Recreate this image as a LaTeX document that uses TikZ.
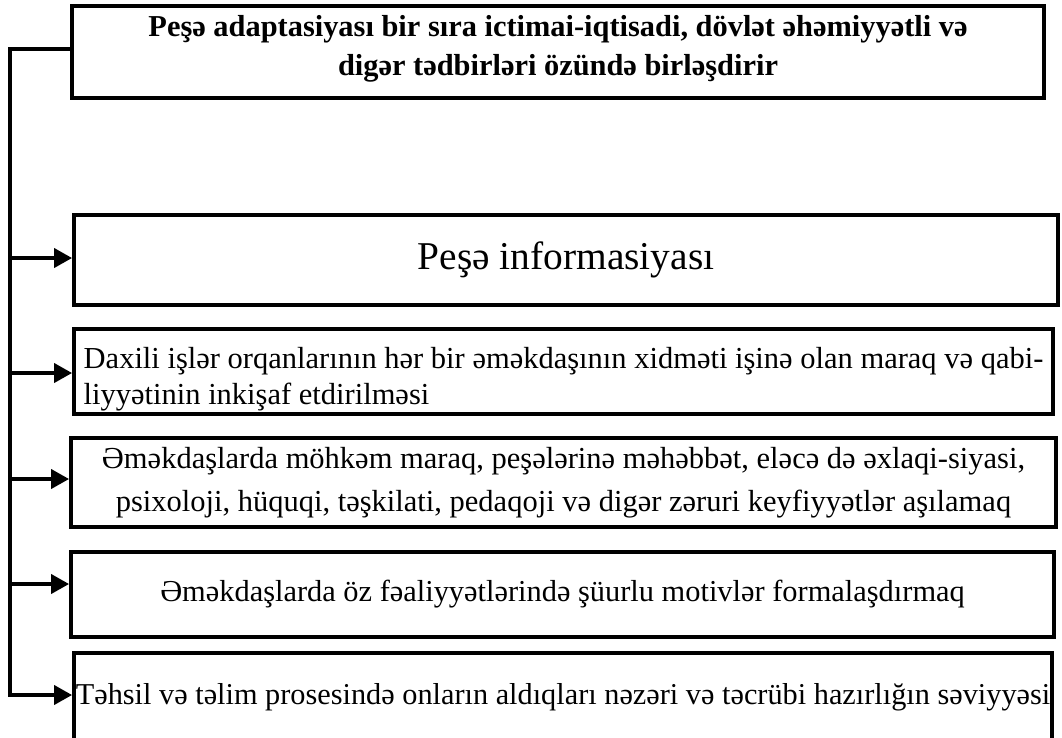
\documentclass[tikz,border=0pt]{standalone}
\usepackage{fontspec}
\setmainfont{Liberation Serif}
\usetikzlibrary{arrows.meta}
\begin{document}
\begin{tikzpicture}[x=1pt,y=-1pt,
  box/.style={draw, line width=3.8pt, rectangle, inner sep=0pt, align=center},
  link/.style={line width=3.8pt, line join=miter},
  arr/.style={link, -{Triangle[length=18pt,width=19pt]}}]
\useasboundingbox (0,0) rectangle (1062,737);
\node[box, minimum width=972pt, minimum height=92pt,
      font=\bfseries\fontsize{30.4}{39}\selectfont] (top) at (558,52)
  {Peşə adaptasiyası bir sıra ictimai-iqtisadi, dövlət əhəmiyyətli və\\ digər tədbirləri özündə birləşdirir\rule[-13pt]{0pt}{0pt}};
\node[box, minimum width=984pt, minimum height=90pt,
      font=\fontsize{39.4}{44}\selectfont] (b2) at (566,260) {Peşə informasiyası};
\node[box, minimum width=979pt, minimum height=85pt, align=left,
      font=\fontsize{30.5}{36}\selectfont] (b3) at (563.5,371.5)
  {\rule{0pt}{37pt}Daxili işlər orqanlarının hər bir əməkdaşının xidməti işinə olan maraq və qabi-\\liyyətinin inkişaf etdirilməsi};
\node[box, font=\fontsize{30.5}{43}\selectfont, minimum width=985pt, minimum height=89pt] (b4) at (563.5,482.5)
  {Əməkdaşlarda möhkəm maraq, peşələrinə məhəbbət, eləcə də əxlaqi-siyasi,\\ psixoloji, hüquqi, təşkilati, pedaqoji və digər zəruri keyfiyyətlər aşılamaq};
\node[box, font=\fontsize{30.4}{40}\selectfont, minimum width=983pt, minimum height=85pt] (b5) at (562.5,594.5)
  {Əməkdaşlarda öz fəaliyyətlərində şüurlu motivlər formalaşdırmaq};
\node[box, font=\fontsize{30.3}{40}\selectfont, minimum width=978pt, anchor=north, text height=30pt, text depth=90pt,
      inner ysep=22pt] (b6) at (563,651)
  {Təhsil və təlim prosesində onların aldıqları nəzəri və təcrübi hazırlığın səviyyəsi};
\coordinate (j0) at (10,49);
\coordinate (j2) at (10,258);
\coordinate (j3) at (10,373);
\coordinate (j4) at (10,479);
\coordinate (j5) at (10,584);
\coordinate (j6) at (10,695);
\draw[arr] (top.west |- j0) -- (j0) -- (j6) -- (j6 -| b6.west);
\draw[arr] (j2) -- (j2 -| b2.west);
\draw[arr] (j3) -- (j3 -| b3.west);
\draw[arr] (j4) -- (j4 -| b4.west);
\draw[arr] (j5) -- (j5 -| b5.west);
\end{tikzpicture}
\end{document}
